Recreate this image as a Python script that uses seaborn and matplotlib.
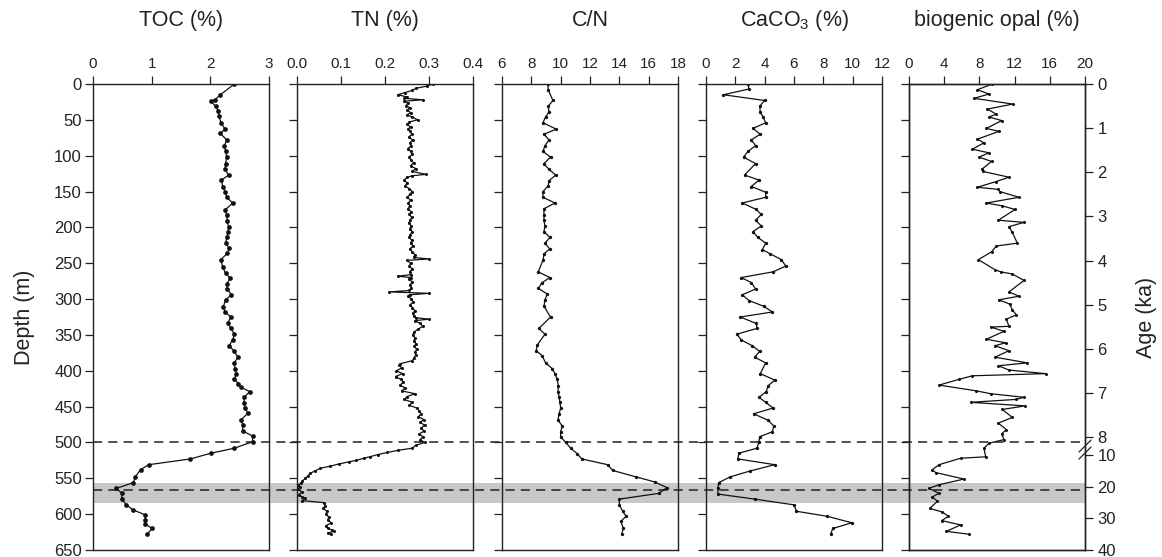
import numpy as np
import matplotlib
matplotlib.use('Agg')
import matplotlib.pyplot as plt
import matplotlib.transforms as mtrans
from matplotlib.lines import Line2D
from matplotlib.patches import Rectangle
from matplotlib.ticker import FormatStrFormatter
import seaborn as sns

# ---- data (depth in m) ----
toc_depth=[0,15,22,24,31,37,45,54,63,69,78,86,94,102,111,119,127,134,143,150,158,166,176,183,191,199,207,214,222,229,236,245,255,264,271,279,286,294,301,311,318,325,333,341,349,357,365,373,381,389,397,404,412,418,423,429,437,445,452,459,468,476,484,491,499,508,515,523,531,538,548,556,564,571,579,587,594,601,608,614,620,628]
toc=[2.41,2.17,2.08,2.01,2.09,2.13,2.15,2.18,2.25,2.17,2.28,2.24,2.26,2.28,2.26,2.25,2.31,2.19,2.21,2.25,2.28,2.38,2.25,2.28,2.29,2.31,2.30,2.28,2.26,2.32,2.29,2.18,2.21,2.26,2.34,2.28,2.29,2.36,2.26,2.22,2.25,2.35,2.30,2.35,2.41,2.38,2.32,2.41,2.47,2.41,2.42,2.44,2.41,2.48,2.52,2.67,2.58,2.57,2.59,2.64,2.53,2.55,2.55,2.72,2.72,2.41,2.01,1.66,0.95,0.81,0.72,0.69,0.40,0.49,0.49,0.57,0.68,0.89,0.89,0.89,1.01,0.92]

tn_depth=[0,3,6,9,12,15,18,20,22,24,27,30,33,36,40,43,46,50,53,56,60,63,66,70,74,78,82,86,90,94,98,102,106,110,114,118,122,126,128,130,134,138,142,146,150,154,158,162,166,170,174,178,182,186,190,194,198,202,206,210,214,218,222,226,230,234,238,242,244,246,250,254,258,262,266,268,270,272,276,280,284,288,290,292,294,296,300,304,308,312,316,320,324,326,328,330,334,338,342,346,350,354,358,362,366,370,374,378,382,386,390,392,396,400,404,408,412,416,420,424,428,432,436,440,444,448,452,456,460,464,468,472,476,480,484,488,492,496,500,504,508,511,514,517,520,522,525,527,530,533,536,540,543,547,550,554,557,560,562,565,569,573,576,578,581,584,588,592,596,600,604,608,612,616,620,622,624,626,628]
tn=[0.309,0.295,0.270,0.262,0.245,0.229,0.250,0.244,0.286,0.244,0.252,0.248,0.256,0.251,0.258,0.250,0.262,0.274,0.255,0.250,0.258,0.252,0.257,0.261,0.254,0.263,0.256,0.260,0.252,0.258,0.262,0.255,0.259,0.265,0.258,0.270,0.262,0.293,0.262,0.250,0.244,0.250,0.246,0.255,0.262,0.256,0.251,0.258,0.253,0.256,0.252,0.259,0.255,0.261,0.257,0.254,0.260,0.256,0.262,0.257,0.255,0.261,0.258,0.264,0.256,0.262,0.268,0.265,0.301,0.250,0.258,0.255,0.262,0.256,0.259,0.229,0.258,0.254,0.262,0.257,0.260,0.255,0.210,0.300,0.256,0.252,0.260,0.264,0.257,0.262,0.268,0.263,0.266,0.270,0.301,0.268,0.280,0.286,0.275,0.266,0.263,0.268,0.266,0.270,0.267,0.272,0.268,0.270,0.266,0.262,0.235,0.232,0.238,0.226,0.240,0.224,0.236,0.242,0.234,0.246,0.238,0.268,0.250,0.244,0.262,0.255,0.272,0.278,0.282,0.276,0.288,0.280,0.290,0.282,0.289,0.278,0.286,0.280,0.290,0.270,0.262,0.229,0.205,0.183,0.165,0.152,0.135,0.118,0.095,0.076,0.053,0.040,0.030,0.024,0.019,0.012,0.008,0.003,0.006,0.002,0.011,0.004,0.012,0.019,0.011,0.061,0.064,0.060,0.068,0.066,0.072,0.070,0.078,0.066,0.070,0.080,0.084,0.070,0.078]

cn_depth=[0,8,23,31,39,46,54,63,70,78,86,94,102,111,119,127,135,142,150,158,166,174,183,190,198,206,214,222,230,237,245,262,270,277,285,293,301,310,325,341,349,364,372,379,389,397,404,412,421,429,437,444,452,460,469,477,485,492,500,508,516,523,531,539,548,555,563,571,579,587,596,603,610,620,628]
cn=[9.13,9.15,9.47,9.15,9.20,8.97,8.79,9.70,8.86,9.20,8.93,8.79,9.31,8.86,9.20,9.66,9.20,9.15,8.79,8.79,9.61,8.86,8.86,8.86,8.93,8.86,9.27,8.93,9.25,8.86,8.81,8.47,9.27,8.74,8.47,9.09,8.93,8.86,9.31,8.51,8.93,8.40,8.33,8.74,8.97,9.43,9.61,9.77,9.84,9.82,9.89,9.95,10.0,9.89,9.82,10.11,10.0,10.0,10.34,10.69,11.14,11.44,13.2,13.54,15.14,16.4,17.25,16.7,14.0,14.0,14.23,14.46,14.11,14.27,14.16]

caco3_depth=[0,7,15,23,31,39,46,54,62,70,78,86,94,102,111,127,134,143,151,158,166,175,182,190,198,206,214,222,231,237,245,254,262,270,277,286,294,302,310,318,325,334,341,349,357,365,373,381,389,404,413,421,429,437,444,452,460,469,477,485,492,499,508,515,523,531,540,548,556,564,572,579,587,596,603,612,620,628]
caco3=[2.86,2.93,1.19,4.0,3.66,3.70,3.89,4.07,3.20,3.70,3.09,3.38,2.86,2.56,3.38,2.63,3.61,3.09,4.07,4.07,2.47,3.43,3.77,3.38,3.77,3.20,3.54,4.07,3.84,4.39,5.14,5.44,4.57,2.40,3.09,3.38,2.47,2.93,3.93,4.53,2.33,3.43,3.47,2.10,2.40,3.15,3.66,3.31,4.07,3.70,4.69,4.23,4.11,3.61,4.07,4.57,3.25,4.23,4.62,4.53,3.66,3.61,3.47,2.24,2.17,4.69,2.97,1.65,0.87,0.80,0.82,3.31,5.99,6.17,8.27,9.94,8.64,8.50]

opal_depth=[0,8,14,20,28,35,42,46,51,62,66,77,82,91,96,102,108,119,122,130,136,144,147,150,158,166,170,175,190,193,199,207,222,226,234,245,259,262,265,274,290,296,301,307,315,322,328,338,339,345,356,361,365,372,381,389,393,399,404,407,412,420,428,432,437,440,444,449,454,465,473,482,488,496,501,508,520,522,531,538,542,551,559,564,571,576,582,592,597,603,609,615,624,628]
opal=[9.47,7.77,9.09,7.39,11.8,8.9,9.92,9.09,10.53,8.79,10.23,7.77,8.52,7.2,9.09,7.95,9.39,8.26,8.41,11.36,9.92,7.77,10.15,10.3,12.5,8.79,10.61,12.05,10.15,13.07,11.36,11.74,12.31,9.92,9.39,7.88,9.77,10.42,11.74,13.07,11.36,12.5,10.23,11.44,11.74,12.2,11.06,11.36,9.28,10.8,8.79,10.98,9.77,11.36,9.77,13.45,10.15,11.36,15.53,7.2,5.68,3.41,7.65,9.28,13.07,12.12,7.0,13.18,10.6,11.74,10.15,11.06,10.53,10.8,9.09,8.52,8.71,5.87,3.41,2.65,3.03,6.25,3.41,2.27,3.41,2.65,3.22,2.35,3.79,4.47,3.71,5.87,4.24,6.82]

age_labels=['0','1','2','3','4','5','6','7','8','10','20','30','40']
age_depth=[0,61.6,123.1,184.7,246.2,307.8,369.4,430.9,492.5,517,562,605,650]

depth_ticks=np.arange(0,651,50)
band=(556,584)
dashed=[500,566]

titles=['TOC (%)','TN (%)','C/N',r'CaCO$\mathregular{_3}$ (%)','biogenic opal (%)']
xlims=[(0,3),(0,0.4),(6,18),(0,12),(0,20)]
xticks=[[0,1,2,3],[0,0.1,0.2,0.3,0.4],[6,8,10,12,14,16,18],[0,2,4,6,8,10,12],[0,4,8,12,16,20]]
series=[(toc_depth,toc),(tn_depth,tn),(cn_depth,cn),(caco3_depth,caco3),(opal_depth,opal)]
msizes=[3.4,2.2,2.4,2.4,2.2]

sns.set_style('ticks')
plt.rcParams['font.family']=['Liberation Sans','DejaVu Sans']
plt.rcParams['mathtext.fontset']='custom'
plt.rcParams['mathtext.rm']='Liberation Sans'

W,H=1162,557
fig=plt.figure(figsize=(W/100,H/100),dpi=100)
lefts=[93,297,502,706,909]
axs=[]
for i in range(5):
    ax=fig.add_axes([lefts[i]/W,7/H,176/W,466/H])
    ax.set_facecolor('none')
    d,v=series[i]
    sns.lineplot(x=v,y=d,sort=False,estimator=None,orient='y',marker='o',markersize=msizes[i],
                 markeredgewidth=0,color='#111111',lw=0.9,ax=ax)
    ax.set_xlim(*xlims[i]); ax.set_ylim(650,0)
    ax.set_xticks(xticks[i]); ax.set_yticks(depth_ticks)
    if i==1: ax.xaxis.set_major_formatter(FormatStrFormatter('%.1f'))
    ax.xaxis.tick_top()
    ax.tick_params(axis='x',top=True,bottom=False,labeltop=True,labelbottom=False,direction='out',length=6,width=0.9,labelsize=11,pad=3,colors='#222222')
    ax.tick_params(axis='y',left=True,right=False,labelleft=(i==0),direction='out',length=6,width=0.9,labelsize=12,pad=2,colors='#222222')
    for s in ax.spines.values():
        s.set_linewidth(1.0); s.set_color('#222222')
    ax.set_xlabel(''); ax.set_ylabel('')
    ax.text(0.5,1.137,titles[i],transform=ax.transAxes,ha='center',va='center',fontsize=15.5,color='#222222')
    axs.append(ax)

axs[0].set_ylabel('Depth (m)',fontsize=15.5,labelpad=14,color='#222222')

axr=axs[4].twinx()
axr.set_ylim(650,0)
axr.set_yticks(age_depth); axr.set_yticklabels(age_labels)
axr.tick_params(axis='y',direction='out',length=6,width=0.9,labelsize=12,pad=3,colors='#222222')
for s in axr.spines.values():
    s.set_linewidth(1.0); s.set_color('#222222')
axr.set_ylabel('Age (ka)',fontsize=15.5,labelpad=14,color='#222222')
# break mark on the age axis
for off in (0,7):
    y0=(650-(505+off/0.717))/650
    axr.plot([1-6/176,1+6/176],[y0-6/466,y0+6/466],transform=axr.transAxes,color='#222222',lw=0.9,clip_on=False)

# shaded interval and dashed lines running across all panels
tr=mtrans.blended_transform_factory(fig.transFigure,axs[0].transData)
x0,x1=lefts[0]/W,(lefts[4]+176)/W
fig.add_artist(Rectangle((x0,band[0]),x1-x0,band[1]-band[0],transform=tr,facecolor='#c8c8c8',edgecolor='none',zorder=-2))
for dd in dashed:
    fig.add_artist(Line2D([x0,x1],[dd,dd],transform=tr,color='#222222',lw=1.1,ls=(0,(6,4)),zorder=-1))

plt.savefig('out.png',dpi=100)
plt.close()
